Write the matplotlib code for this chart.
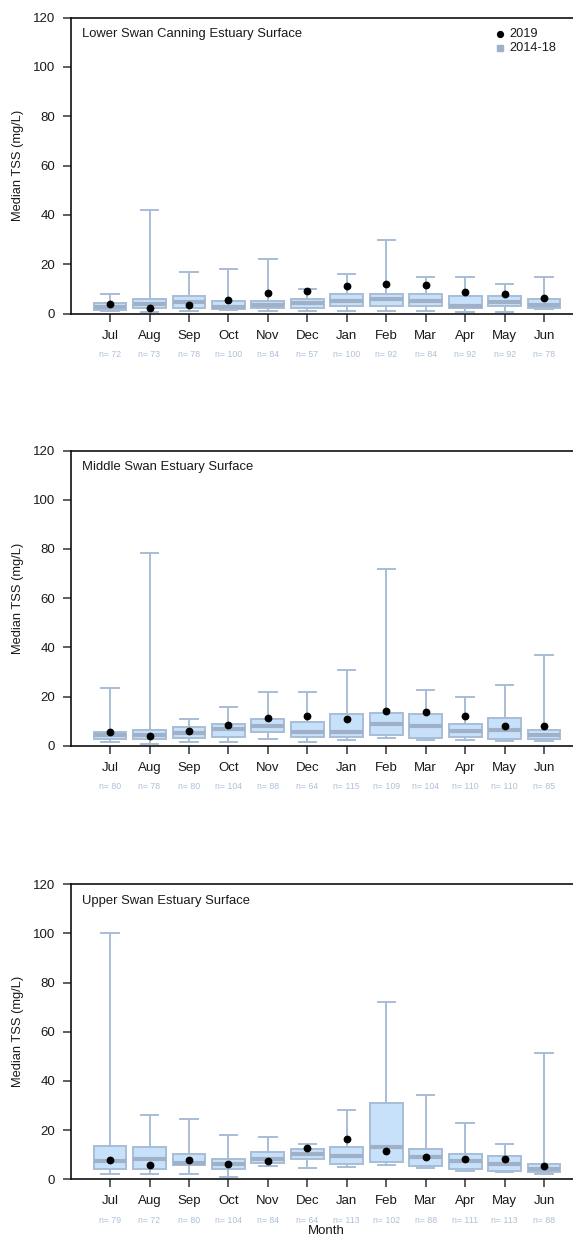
import matplotlib
matplotlib.use("Agg")
import matplotlib.pyplot as plt

plt.rcParams['font.family'] = ['Liberation Sans', 'DejaVu Sans']

months = ["Jul", "Aug", "Sep", "Oct", "Nov", "Dec",
          "Jan", "Feb", "Mar", "Apr", "May", "Jun"]

# Lower Swan Canning Estuary Surface
lower_title = "Lower Swan Canning Estuary Surface"
lower_whislo = [1.2, 0.8, 1.2, 1.5, 1.2, 1.2, 1.2, 1.2, 1.2, 0.8, 0.8, 1.8]
lower_q1 = [1.7, 2.2, 2.2, 1.8, 2.2, 2.2, 3.1, 3.1, 3.1, 2.2, 3.1, 2.2]
lower_med = [2.7, 4.1, 4.9, 2.6, 3.7, 4.2, 5.3, 6.1, 5.3, 3.0, 4.9, 3.7]
lower_q3 = [4.2, 6.1, 7.2, 5.1, 5.1, 6.1, 8.0, 8.0, 8.0, 7.0, 7.0, 6.1]
lower_whishi = [8.0, 42.2, 16.9, 18.0, 22.3, 9.9, 16.0, 29.9, 15.0, 15.0, 12.2, 15.0]
lower_2019 = [4.1, 2.2, 3.5, 5.5, 8.4, 9.3, 11.2, 12.2, 11.6, 8.8, 7.9, 6.5]
lower_n = [72, 73, 78, 100, 84, 57, 100, 92, 84, 92, 92, 78]

# Middle Swan Estuary Surface
middle_title = "Middle Swan Estuary Surface"
middle_whislo = [1.6, 0.8, 1.6, 1.6, 2.7, 1.6, 2.5, 3.0, 2.5, 2.5, 2.0, 1.8]
middle_q1 = [2.7, 2.6, 3.0, 3.5, 5.4, 3.7, 3.5, 4.2, 3.1, 3.7, 2.6, 2.6]
middle_med = [4.2, 4.3, 5.0, 6.6, 8.1, 5.7, 5.7, 8.8, 8.0, 5.8, 6.2, 4.2]
middle_q3 = [5.6, 6.5, 7.5, 9.0, 10.7, 9.8, 12.8, 13.2, 12.8, 9.0, 11.4, 6.5]
middle_whishi = [23.6, 78.2, 10.9, 15.6, 21.7, 21.7, 30.8, 72.0, 22.8, 19.9, 24.7, 37.0]
middle_2019 = [5.6, 3.8, 6.0, 8.4, 11.3, 12.2, 10.9, 14.1, 13.6, 12.2, 8.0, 8.0]
middle_n = [80, 78, 80, 104, 88, 64, 115, 109, 104, 110, 110, 85]

# Upper Swan Estuary Surface
upper_title = "Upper Swan Estuary Surface"
upper_whislo = [2.0, 2.0, 2.0, 1.1, 5.3, 4.5, 5.0, 6.0, 4.5, 3.5, 2.8, 2.0]
upper_q1 = [4.3, 4.3, 5.7, 4.3, 6.6, 8.1, 6.2, 7.2, 5.3, 4.3, 3.4, 2.8]
upper_med = [7.3, 8.3, 6.8, 6.4, 8.1, 10.2, 9.4, 13.0, 9.2, 7.3, 6.4, 4.3]
upper_q3 = [13.6, 13.0, 10.2, 8.3, 11.0, 12.2, 13.2, 31.2, 12.2, 10.2, 9.4, 6.4]
upper_whishi = [100.3, 26.3, 24.4, 18.2, 17.2, 14.4, 28.3, 72.1, 34.4, 23.1, 14.4, 51.3]
upper_2019 = [7.7, 5.8, 7.7, 6.4, 7.3, 12.6, 16.4, 11.5, 9.2, 8.3, 8.3, 5.3]
upper_n = [79, 72, 80, 104, 84, 64, 113, 102, 88, 111, 113, 88]

y_ticks = [0, 20, 40, 60, 80, 100, 120]

panels = [
    (lower_title, lower_whislo, lower_q1, lower_med, lower_q3, lower_whishi, lower_2019, lower_n),
    (middle_title, middle_whislo, middle_q1, middle_med, middle_q3, middle_whishi, middle_2019, middle_n),
    (upper_title, upper_whislo, upper_q1, upper_med, upper_q3, upper_whishi, upper_2019, upper_n),
]

W, H = 573, 1237
fig = plt.figure(figsize=(W / 100, H / 100), dpi=100)

box_fill = "#C8E1FA"
box_edge = "#A8BDD6"
med_col = "#9EB1C8"
n_col = "#AFC0D6"
txt_col = "#1a1a1a"

# pixel extents (top, bottom) of each panel's plotting area
extents = [(17.5, 313.7), (450.5, 745.7), (884.3, 1179.3)]
ax_left, ax_right = 70.6, 583.5

for (title, wlo, q1, med, q3, whi, cur, ns), (top, bot) in zip(panels, extents):
    ax = fig.add_axes([ax_left / W, 1 - bot / H, (ax_right - ax_left) / W, (bot - top) / H])
    stats = []
    for i in range(len(months)):
        stats.append(dict(whislo=wlo[i], q1=q1[i], med=med[i], q3=q3[i],
                          whishi=whi[i], fliers=[]))
    pos = list(range(1, len(months) + 1))
    ax.bxp(stats, positions=pos, widths=0.83, patch_artist=True,
           showfliers=False,
           boxprops=dict(facecolor=box_fill, edgecolor=box_edge, linewidth=1.4),
           medianprops=dict(color=med_col, linewidth=3.0, solid_capstyle='butt'),
           whiskerprops=dict(color=box_edge, linewidth=1.4),
           capprops=dict(color=box_edge, linewidth=1.4),
           capwidths=0.44)
    ax.plot(pos, cur, 'o', color='black', markersize=4.6, zorder=5)

    ax.set_xlim(0, 13)
    ax.set_ylim(0, 120)
    ax.set_yticks(y_ticks)
    ax.set_yticklabels([str(t) for t in y_ticks])
    ax.set_xticks(pos)
    ax.set_xticklabels(months)
    ax.tick_params(axis='both', direction='out', length=6, width=1.1,
                   color='#333333', labelsize=9.5, labelcolor=txt_col)
    ax.tick_params(axis='x', pad=5.5)
    ax.tick_params(axis='y', pad=5)
    for side in ['left', 'bottom', 'top']:
        ax.spines[side].set_linewidth(1.2)
        ax.spines[side].set_color('#111111')
    ax.spines['right'].set_visible(False)

    ax.text(0.0215, 0.944, title, transform=ax.transAxes, fontsize=9.4,
            color=txt_col, ha='left', va='center')

    for p, n in zip(pos, ns):
        ax.annotate(f"n= {n}", xy=(p, 0), xycoords=('data', 'data'),
                    xytext=(0, -29.5), textcoords='offset points',
                    ha='center', va='center', fontsize=6.3, color=n_col,
                    annotation_clip=False)

    fig.text(18 / W, 1 - (top + bot) / 2 / H, "Median TSS (mg/L)", rotation=90,
             ha='center', va='center', fontsize=9.3, color=txt_col)

    if title == lower_title:
        ax.plot([0.837], [0.944], 'o', color='black', markersize=4.2,
                transform=ax.transAxes, clip_on=False)
        ax.plot([0.837], [0.897], 's', color=med_col, markersize=4.0,
                transform=ax.transAxes, clip_on=False)
        ax.text(0.855, 0.944, "2019", transform=ax.transAxes, fontsize=9.2,
                color=txt_col, ha='left', va='center')
        ax.text(0.855, 0.897, "2014-18", transform=ax.transAxes, fontsize=9.2,
                color=txt_col, ha='left', va='center')

fig.text(326 / W, 1 - 1231 / H, "Month", ha='center', va='center',
         fontsize=9.5, color=txt_col)

fig.savefig("out.png", dpi=100)
